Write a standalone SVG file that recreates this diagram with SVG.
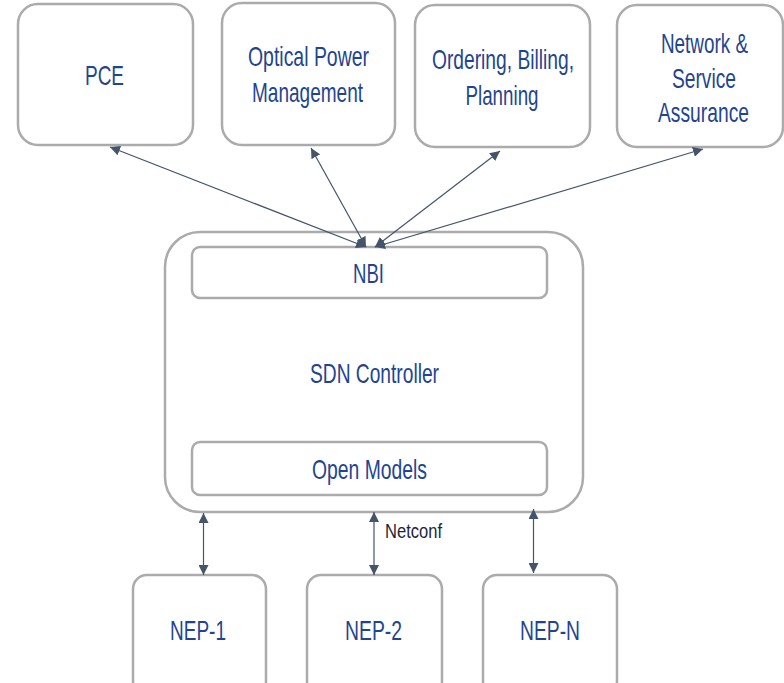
<svg xmlns="http://www.w3.org/2000/svg" width="784" height="683" viewBox="0 0 784 683">
  <defs>
    <marker id="head" viewBox="0 0 10 10" refX="10" refY="5" markerWidth="10" markerHeight="10" markerUnits="userSpaceOnUse" orient="auto-start-reverse">
      <path d="M0,0 L10,5 L0,10 z" fill="#44546A"/>
    </marker>
  </defs>
  <style>
    .box { fill: #FFFFFF; stroke: #ABABAB; stroke-width: 2.5; }
    .lbl { font-family: "Liberation Sans", Arial, sans-serif; font-size: 28px; fill: #1F4591; text-anchor: middle; }
    .link { stroke: #44546A; stroke-width: 1.2; fill: none; marker-start: url(#head); marker-end: url(#head); }
    .note { font-family: "Liberation Sans", Arial, sans-serif; font-size: 21px; fill: #1C2638; }
  </style>
  <rect width="784" height="683" fill="#FFFFFF"/>

  <!-- applications -->
  <g id="pce">
    <rect class="box" x="18" y="4" width="175" height="141" rx="20"/>
    <text class="lbl" x="104.5" y="85" textLength="39" lengthAdjust="spacingAndGlyphs">PCE</text>
  </g>
  <g id="optical-power">
    <rect class="box" x="222" y="3" width="173" height="142" rx="20"/>
    <text class="lbl" x="308.5" y="66" textLength="121" lengthAdjust="spacingAndGlyphs">Optical Power</text>
    <text class="lbl" x="307.5" y="102" textLength="111" lengthAdjust="spacingAndGlyphs">Management</text>
  </g>
  <g id="ordering">
    <rect class="box" x="415" y="5" width="175" height="142" rx="20"/>
    <text class="lbl" x="503" y="69" textLength="142" lengthAdjust="spacingAndGlyphs">Ordering, Billing,</text>
    <text class="lbl" x="502" y="105" textLength="73" lengthAdjust="spacingAndGlyphs">Planning</text>
  </g>
  <g id="assurance">
    <rect class="box" x="617" y="5" width="166" height="142" rx="20"/>
    <text class="lbl" x="704.5" y="53" textLength="87" lengthAdjust="spacingAndGlyphs">Network &amp;</text>
    <text class="lbl" x="704" y="88" textLength="64" lengthAdjust="spacingAndGlyphs">Service</text>
    <text class="lbl" x="703.5" y="122" textLength="91" lengthAdjust="spacingAndGlyphs">Assurance</text>
  </g>

  <!-- controller -->
  <g id="sdn-controller">
    <rect class="box" x="165" y="232" width="418" height="280" rx="35"/>
    <text class="lbl" x="374.5" y="383" textLength="129" lengthAdjust="spacingAndGlyphs">SDN Controller</text>
  </g>
  <g id="nbi">
    <rect class="box" x="192" y="247" width="355" height="51" rx="8"/>
    <text class="lbl" x="368.5" y="283" textLength="31" lengthAdjust="spacingAndGlyphs">NBI</text>
  </g>
  <g id="open-models">
    <rect class="box" x="192" y="442" width="355" height="53" rx="8"/>
    <text class="lbl" x="369.5" y="479" textLength="115" lengthAdjust="spacingAndGlyphs">Open Models</text>
  </g>

  <!-- network elements -->
  <g id="nep-1">
    <rect class="box" x="133" y="575" width="133" height="120" rx="14"/>
    <text class="lbl" x="198" y="640" textLength="56" lengthAdjust="spacingAndGlyphs">NEP-1</text>
  </g>
  <g id="nep-2">
    <rect class="box" x="307" y="575" width="135" height="120" rx="14"/>
    <text class="lbl" x="373.5" y="640" textLength="57" lengthAdjust="spacingAndGlyphs">NEP-2</text>
  </g>
  <g id="nep-n">
    <rect class="box" x="483" y="575" width="134" height="120" rx="14"/>
    <text class="lbl" x="550" y="640" textLength="60" lengthAdjust="spacingAndGlyphs">NEP-N</text>
  </g>

  <!-- connectors -->
  <g id="connectors">
    <line class="link" x1="366" y1="247" x2="110" y2="147"/>
    <line class="link" x1="366" y1="247" x2="311" y2="148"/>
    <line class="link" x1="375" y1="247" x2="500" y2="151"/>
    <line class="link" x1="375" y1="247" x2="703" y2="149"/>
    <line class="link" x1="203.5" y1="513" x2="203.5" y2="575"/>
    <line class="link" x1="374" y1="512" x2="374" y2="575"/>
    <line class="link" x1="533.5" y1="509" x2="533.5" y2="573"/>
    <text class="note" x="385" y="538" textLength="57" lengthAdjust="spacingAndGlyphs">Netconf</text>
  </g>
</svg>
